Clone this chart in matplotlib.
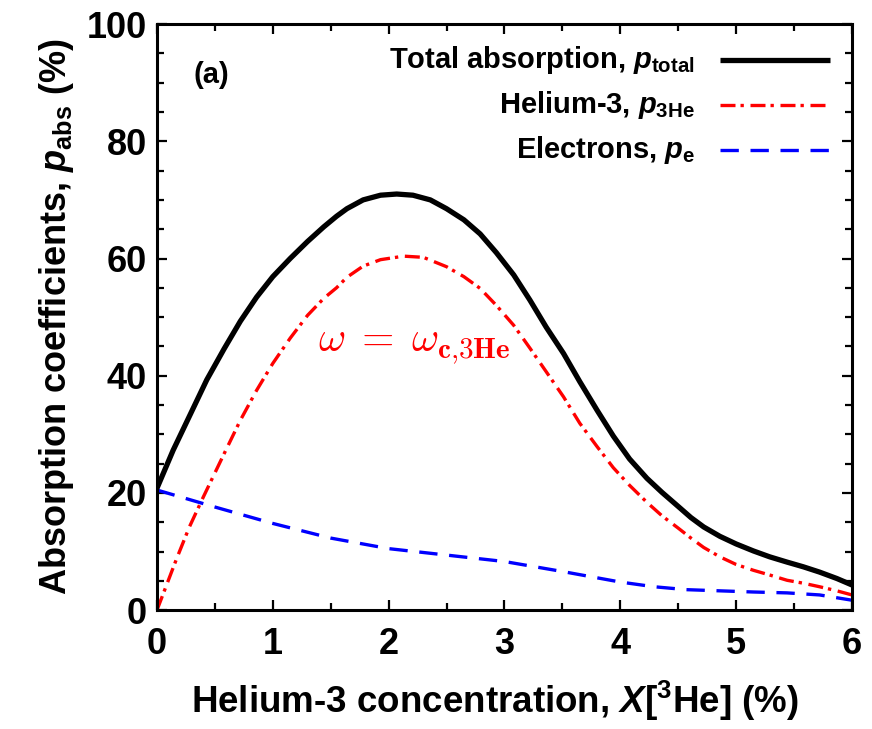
import matplotlib
matplotlib.use("Agg")
import matplotlib.pyplot as plt
from matplotlib.ticker import MultipleLocator

# values
x_total = [0.0, 0.14, 0.29, 0.43, 0.58, 0.72, 0.86, 1.0, 1.15, 1.3, 1.44, 1.55,
           1.64, 1.78, 1.93, 2.07, 2.21, 2.36, 2.5, 2.65, 2.79, 2.93, 3.08, 3.22,
           3.36, 3.51, 3.65, 3.8, 3.94, 4.08, 4.23, 4.36, 4.5, 4.61, 4.72, 4.86,
           5.0, 5.15, 5.29, 5.44, 5.58, 5.72, 5.87, 6.0]
p_total = [20.8, 27.3, 33.5, 39.3, 44.6, 49.3, 53.4, 56.9, 60.0, 62.9, 65.4, 67.2,
           68.5, 70.0, 70.8, 71.0, 70.8, 70.0, 68.5, 66.6, 64.2, 61.0, 57.2, 52.9,
           48.3, 43.8, 39.0, 34.1, 29.7, 25.8, 22.5, 20.1, 17.7, 15.8, 14.2, 12.6,
           11.3, 10.1, 9.1, 8.2, 7.4, 6.5, 5.4, 4.3]

x_he = [0.0, 0.17, 0.28, 0.4, 0.58, 0.72, 0.86, 1.0, 1.15, 1.3, 1.44, 1.55, 1.64,
        1.78, 1.93, 2.13, 2.3, 2.5, 2.65, 2.79, 2.93, 3.08, 3.22, 3.36, 3.51, 3.65,
        3.8, 3.94, 4.08, 4.23, 4.36, 4.5, 4.61, 4.72, 4.86, 5.0, 5.15, 5.29, 5.44,
        5.58, 5.72, 5.87, 6.0]
p_he = [0.0, 8.8, 14.2, 19.3, 26.7, 32.4, 37.5, 42.1, 46.4, 50.3, 53.2, 55.0, 56.8,
        58.7, 59.8, 60.4, 60.2, 58.6, 56.9, 54.9, 52.0, 48.6, 44.7, 40.7, 36.4, 31.9,
        27.9, 24.3, 21.3, 18.4, 16.1, 14.0, 12.3, 10.7, 9.1, 7.8, 6.8, 6.0, 5.1,
        4.6, 4.0, 3.3, 2.6]

x_e = [0.0, 0.5, 1.0, 1.5, 2.0, 2.5, 3.0, 3.5, 4.0, 4.29, 4.57, 4.86, 5.15, 5.44,
       5.72, 6.0]
p_e = [20.5, 17.6, 14.8, 12.3, 10.5, 9.4, 8.3, 6.6, 4.8, 4.0, 3.5, 3.3, 3.1, 2.95,
       2.6, 1.7]

labels = [r"Total absorption, $p_{\rm total}$",
          r"Helium-3, $p_{\rm 3He}$",
          r"Electrons, $p_{\rm e}$"]

styles = [dict(color="black", lw=3.8, solid_capstyle="butt"),
          dict(color="red", lw=2.4, dashes=(4.5, 1.5, 1.0, 2.0)),
          dict(color="blue", lw=2.4, dashes=(5.5, 3.5))]

plt.rcParams["font.family"] = "Liberation Sans"
plt.rcParams["font.weight"] = "bold"
plt.rcParams["axes.labelweight"] = "bold"
plt.rcParams["mathtext.fontset"] = "custom"
plt.rcParams["mathtext.rm"] = "Liberation Sans:bold"
plt.rcParams["mathtext.it"] = "Liberation Sans:italic:bold"
plt.rcParams["mathtext.bf"] = "Liberation Sans:bold"

fig = plt.figure(figsize=(8.72, 7.29), dpi=100)
ax = fig.add_axes([0.180, 0.163, 0.797, 0.804])

ax.plot(x_total, p_total, zorder=3, **styles[0])
ax.plot(x_he, p_he, zorder=2, **styles[1])
ax.plot(x_e, p_e, zorder=2, **styles[2])

ax.set_xlim(0, 6)
ax.set_ylim(0, 100)
ax.xaxis.set_major_locator(MultipleLocator(1))
ax.xaxis.set_minor_locator(MultipleLocator(0.5))
ax.yaxis.set_major_locator(MultipleLocator(20))
ax.yaxis.set_minor_locator(MultipleLocator(5))
ax.tick_params(which="both", direction="in", top=True, right=True, width=1.6,
               labelsize=26)
ax.tick_params(which="major", length=7)
ax.tick_params(which="minor", length=5)
ax.tick_params(axis="x", which="major", pad=12)
ax.tick_params(axis="y", which="major", pad=7)
for s in ax.spines.values():
    s.set_linewidth(2.2)

ax.set_xlabel(r"Helium-3 concentration, $X$[$^{\rm 3}$He] (%)", fontsize=26.5,
              labelpad=12)
ax.xaxis.label.set_x(0.486)
ax.set_ylabel(r"Absorption coefficients, $p_{\rm abs}$ (%)", fontsize=26,
              labelpad=8)

# legend: text right aligned, sample line on the right
rows_y = [0.939, 0.862, 0.785]
for st, lab, yy in zip(styles, labels, rows_y):
    ax.text(0.774, yy, lab, transform=ax.transAxes, ha="right", va="center",
            fontsize=21)
    ax.plot([0.81, 0.968], [yy, yy], transform=ax.transAxes, **st)

ax.text(0.078, 0.913, "(a)", transform=ax.transAxes, ha="center", va="center",
        fontsize=21)
ax.text(1.39, 45.0, r"$\omega\;=\;\omega_{\mathbf{c{,}3He}}$", color="red",
        fontsize=30, math_fontfamily="cm", ha="left", va="center")

fig.savefig("out.png", dpi=100)
